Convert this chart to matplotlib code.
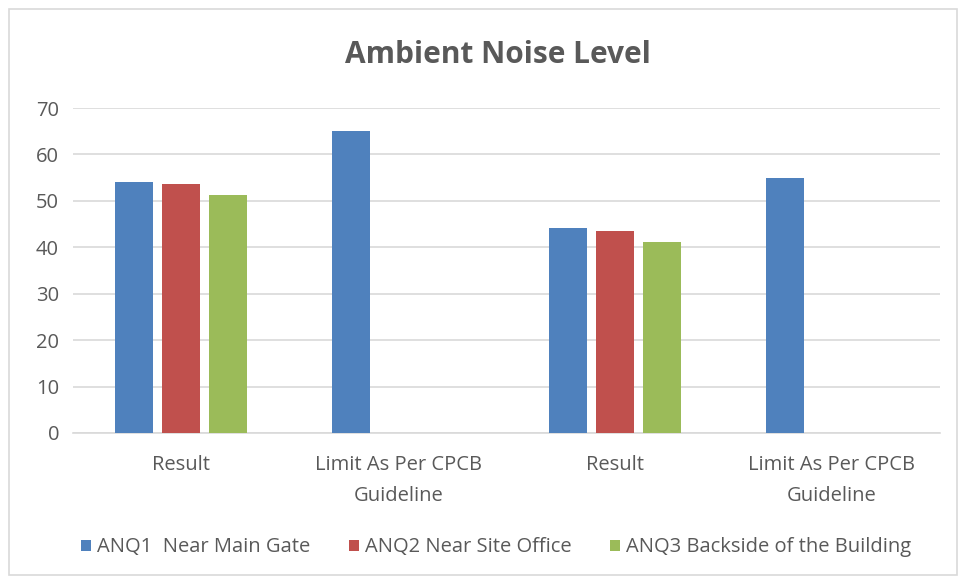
import matplotlib.pyplot as plt
import numpy as np
from matplotlib.patches import Rectangle

categories = ['Result', 'Limit As Per CPCB\nGuideline', 'Result', 'Limit As Per CPCB\nGuideline']
series_names = ['ANQ1  Near Main Gate', 'ANQ2 Near Site Office', 'ANQ3 Backside of the Building']
anq1 = [54.0, 65.0, 44.1, 55.0]
anq2 = [53.7, np.nan, 43.5, np.nan]
anq3 = [51.2, np.nan, 41.1, np.nan]
colors = ['#4F81BD', '#C0504D', '#9BBB59']

plt.rcParams['font.family'] = ['Open Sans', 'DejaVu Sans']
txt = '#595959'

fig = plt.figure(figsize=(9.63, 5.81), dpi=100)
ax = fig.add_axes([73 / 963, 1 - 433 / 581, 867 / 963, 325 / 581])

# outer chart border
fig.patches.append(Rectangle((9 / 963, 6 / 581), 948 / 963, 566 / 581, transform=fig.transFigure,
                             fill=False, edgecolor='#D9D9D9', linewidth=1.2))

x = np.arange(len(categories))
w = 0.175
step = 0.217
for i, (vals, c, n) in enumerate(zip([anq1, anq2, anq3], colors, series_names)):
    ax.bar(x + (i - 1) * step, vals, width=w, color=c, label=n, zorder=3)

ax.set_xlim(-0.5, 3.5)
ax.set_ylim(0, 70)
ax.set_yticks(range(0, 71, 10))
ax.grid(axis='y', color='#D9D9D9', linewidth=1.2, zorder=0)
for s in ['top', 'right', 'left']:
    ax.spines[s].set_visible(False)
ax.spines['bottom'].set_color('#D9D9D9')
ax.spines['bottom'].set_linewidth(1.2)
ax.set_xticks(x)
ax.set_xticklabels(categories, fontsize=14.5, color=txt, linespacing=1.7)
ax.tick_params(axis='both', length=0, colors=txt, labelsize=14.5)
ax.tick_params(axis='x', pad=16)
ax.tick_params(axis='y', pad=10)

fig.text(0.517, 1 - 55 / 581, 'Ambient Noise Level', ha='center', va='center',
         fontsize=21.5, fontweight='bold', color=txt)

ax.legend(loc='center', bbox_to_anchor=(0.488, -0.352), ncol=3, frameon=False,
          fontsize=14.5, labelcolor=txt, handlelength=0.5, handleheight=0.5,
          handletextpad=0.3, columnspacing=1.9)

fig.savefig('out.png', dpi=100)
